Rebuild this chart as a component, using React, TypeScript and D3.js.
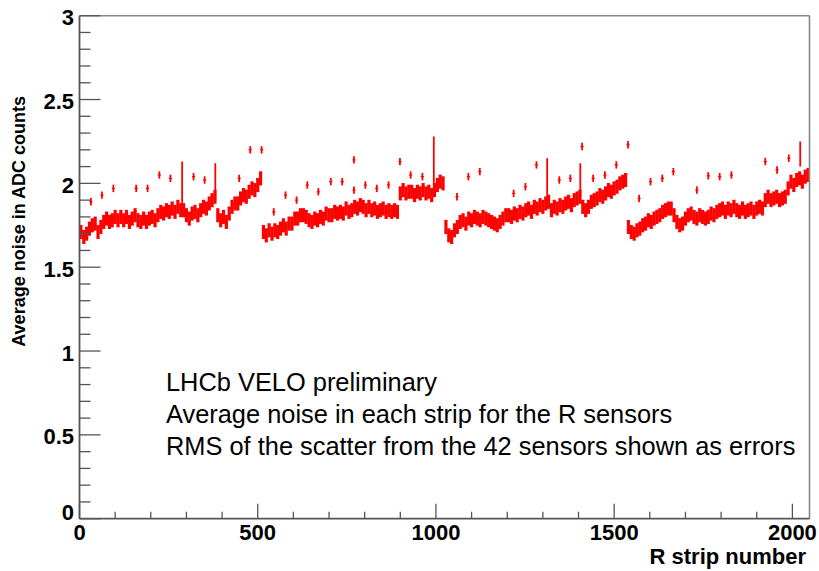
import React from 'react';
import * as d3 from 'd3';

// strips are sampled every 8 channels inside each 512-strip zone
const zoneStart = [0, 512, 1024, 1536];
const sampleStep = 8;

const zone0Noise = [
  1.71, 1.68, 1.70, 1.73, 1.75, 1.76, 1.71, 1.74, 1.77, 1.79, 1.77, 1.78, 1.80, 1.78, 1.80, 1.78,
  1.80, 1.77, 1.79, 1.81, 1.78, 1.77, 1.79, 1.77, 1.79, 1.80, 1.78, 1.81, 1.83, 1.82, 1.84, 1.83,
  1.85, 1.83, 1.86, 1.84, 1.84, 1.81, 1.79, 1.82, 1.83, 1.81, 1.84, 1.86, 1.85, 1.88, 1.90, 1.92,
  1.81, 1.78, 1.80, 1.77, 1.82, 1.86, 1.88, 1.88, 1.91, 1.93, 1.92, 1.95, 1.97, 1.96, 1.99, 2.03,
];
const zone1Noise = [
  1.71, 1.69, 1.72, 1.70, 1.72, 1.71, 1.73, 1.75, 1.73, 1.76, 1.76, 1.79, 1.79, 1.81, 1.81, 1.80,
  1.78, 1.77, 1.79, 1.78, 1.80, 1.79, 1.82, 1.81, 1.81, 1.83, 1.82, 1.83, 1.82, 1.85, 1.83, 1.84,
  1.86, 1.85, 1.87, 1.86, 1.84, 1.86, 1.84, 1.85, 1.83, 1.84, 1.85, 1.83, 1.84, 1.83, 1.84, 1.83,
  1.94, 1.96, 1.94, 1.95, 1.95, 1.93, 1.95, 1.94, 1.96, 1.94, 1.95, 1.93, 1.96, 1.99, 2.01, 2.00,
];
const zone2Noise = [
  1.74, 1.69, 1.68, 1.72, 1.74, 1.77, 1.78, 1.76, 1.79, 1.78, 1.80, 1.79, 1.78, 1.80, 1.79, 1.78,
  1.77, 1.76, 1.75, 1.77, 1.79, 1.81, 1.81, 1.80, 1.82, 1.81, 1.83, 1.82, 1.84, 1.85, 1.83, 1.86,
  1.85, 1.87, 1.86, 1.88, 1.89, 1.84, 1.86, 1.85, 1.87, 1.86, 1.88, 1.89, 1.87, 1.90, 1.91, 1.92,
  1.86, 1.84, 1.86, 1.89, 1.90, 1.91, 1.93, 1.92, 1.94, 1.96, 1.95, 1.97, 1.98, 2.00, 2.01, 2.02,
];
const zone3Noise = [
  1.74, 1.71, 1.70, 1.72, 1.73, 1.75, 1.76, 1.78, 1.77, 1.79, 1.80, 1.81, 1.83, 1.84, 1.85, 1.85,
  1.81, 1.77, 1.75, 1.76, 1.79, 1.81, 1.82, 1.80, 1.79, 1.81, 1.80, 1.79, 1.80, 1.82, 1.81, 1.83,
  1.84, 1.85, 1.83, 1.85, 1.84, 1.86, 1.84, 1.83, 1.85, 1.83, 1.84, 1.85, 1.83, 1.85, 1.86, 1.85,
  1.90, 1.92, 1.90, 1.91, 1.92, 1.90, 1.91, 1.92, 1.97, 2.01, 1.99, 2.02, 2.03, 2.01, 2.04, 2.05,
];
const zoneNoise = [zone0Noise, zone1Noise, zone2Noise, zone3Noise];
const zoneRms = [0.042, 0.042, 0.042, 0.042];

// single strips that sit well above the band
const isolatedStrips = [
  32, 63, 95, 159, 191, 224, 255, 320, 351, 448, 479, 511,
  545, 578, 609, 639, 670, 705, 737, 770, 770, 802, 834, 867, 899, 929, 962,
  1059, 1091, 1123, 1218, 1251, 1282, 1346, 1377, 1410, 1441, 1474, 1506, 1539,
  1570, 1602, 1635, 1666, 1732, 1764, 1796, 1829, 1924, 1957, 1990,
];
const isolatedNoise = [
  1.89, 1.93, 1.97, 1.97, 1.97, 2.05, 2.03, 2.04, 2.02, 2.03, 2.20, 2.20,
  1.83, 1.93, 1.90, 1.99, 1.95, 2.01, 2.01, 2.14, 1.96, 1.99, 1.97, 1.99, 2.13, 2.05, 2.04,
  1.92, 2.04, 2.07, 1.94, 1.98, 2.11, 2.02, 2.03, 2.22, 2.03, 2.05, 2.11, 2.23,
  1.91, 2.01, 2.03, 2.07, 1.96, 2.045, 2.04, 2.05, 2.13, 2.08, 2.15,
];
const isolatedRms = 0.022;

// tall streaks where several neighbouring strips spread upward
const spikeStrips = [288, 381, 994, 1312, 1405, 2022];
const spikeLow = [1.86, 1.90, 1.95, 1.88, 1.92, 2.10];
const spikeHigh = [2.13, 2.12, 2.28, 2.15, 2.12, 2.25];

const yTicks = [0, 0.5, 1, 1.5, 2, 2.5, 3];
const xTicks = [0, 500, 1000, 1500, 2000];

const textLines = [
  'LHCb VELO preliminary',
  'Average noise in each strip for the R sensors',
  'RMS of the scatter from the 42 sensors shown as errors',
];

const FONT = '"Liberation Sans", Arial, Helvetica, sans-serif';
const AXIS = '#555';

export default function App() {
  const width = 819;
  const height = 571;
  const x = d3.scaleLinear().domain([0, 2048]).range([79.5, 809.5]);
  const y = d3.scaleLinear().domain([0, 3]).range([518.7, 15.7]);

  const band: { s: number; v: number; e: number }[] = [];
  zoneNoise.forEach((vals, z) => {
    vals.forEach((v, i) => band.push({ s: zoneStart[z] + i * sampleStep + sampleStep / 2, v, e: zoneRms[z] }));
  });

  const yMinor = d3.range(0, 3.0001, 0.1).map(d => +d.toFixed(1));
  const xMinor = d3.range(0, 2049, 100);

  return (
    <svg width={width} height={height} style={{ display: 'block', position: 'absolute', left: 0, top: 0, background: '#fff' }}>
      {/* data band */}
      <g stroke="#ff0000" fill="none">
        {band.map((d, i) => (
          <line key={'b' + i} x1={x(d.s)} x2={x(d.s)} y1={y(d.v - d.e)} y2={y(d.v + d.e)} strokeWidth={3.2} />
        ))}
        {spikeStrips.map((s, i) => (
          <line key={'sp' + i} x1={x(s)} x2={x(s)} y1={y(spikeLow[i])} y2={y(spikeHigh[i])} strokeWidth={1.8} />
        ))}
        {isolatedStrips.map((s, i) => (
          <g key={'o' + i}>
            <line x1={x(s)} x2={x(s)} y1={y(isolatedNoise[i] - isolatedRms)} y2={y(isolatedNoise[i] + isolatedRms)} strokeWidth={1.8} />
            <line x1={x(s) - 1.6} x2={x(s) + 1.6} y1={y(isolatedNoise[i])} y2={y(isolatedNoise[i])} strokeWidth={1.2} />
          </g>
        ))}
      </g>

      {/* frame */}
      <line x1={x(0)} x2={x(2048)} y1={y(3)} y2={y(3)} stroke="#888" strokeWidth={1.6} />
      <line x1={x(2048)} x2={x(2048)} y1={y(3)} y2={y(0)} stroke="#888" strokeWidth={1.6} />

      {/* y axis */}
      <line x1={x(0)} x2={x(0)} y1={y(0)} y2={y(3)} stroke={AXIS} strokeWidth={1.8} />
      {yMinor.map(v => {
        const major = Math.abs(v * 2 - Math.round(v * 2)) < 1e-6;
        return <line key={'ym' + v} x1={x(0)} x2={x(0) + (major ? 21 : 11)} y1={y(v)} y2={y(v)} stroke={AXIS} strokeWidth={1.3} />;
      })}
      {yTicks.map(v => (
        <text key={'yl' + v} x={74} y={y(v) + (v === 0 ? -6 : 2)} textAnchor="end" dominantBaseline="central"
          fontFamily={FONT} fontWeight="bold" fontSize={22} fill="#000">{String(v)}</text>
      ))}

      {/* x axis */}
      <line x1={x(0)} x2={x(2048)} y1={y(0)} y2={y(0)} stroke={AXIS} strokeWidth={1.8} />
      {xMinor.map(s => {
        const major = s % 500 === 0;
        return <line key={'xm' + s} x1={x(s)} x2={x(s)} y1={y(0)} y2={y(0) - (major ? 15 : 7)} stroke={AXIS} strokeWidth={1.3} />;
      })}
      {xTicks.map(s => (
        <text key={'xl' + s} x={x(s)} y={540} textAnchor="middle"
          fontFamily={FONT} fontWeight="bold" fontSize={22} fill="#000">{String(s)}</text>
      ))}

      {/* titles */}
      <text x={806} y={564} textAnchor="end" fontFamily={FONT} fontWeight="bold" fontSize={22} fill="#000">R strip number</text>
      <text transform="translate(25,96) rotate(-90)" textAnchor="end" fontFamily={FONT} fontWeight="bold" fontSize={18} fill="#000">
        Average noise in ADC counts
      </text>

      {textLines.map((t, i) => (
        <text key={'t' + i} x={166} y={391 + i * 32} fontFamily={FONT} fontSize={25.4} fill="#000">{t}</text>
      ))}
    </svg>
  );
}
